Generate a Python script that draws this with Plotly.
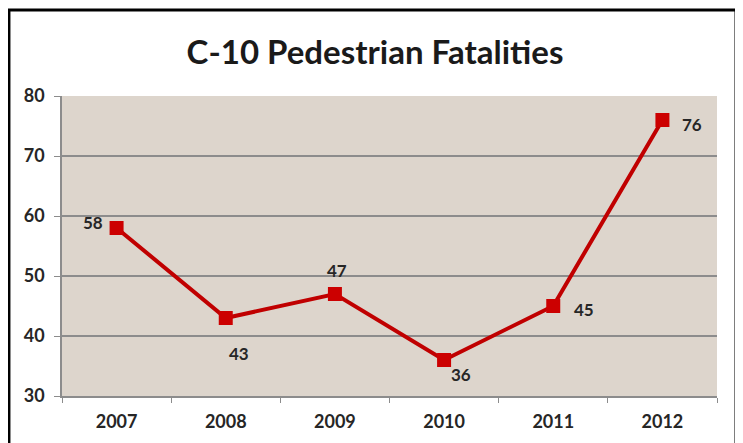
import plotly.graph_objects as go

years = ["2007", "2008", "2009", "2010", "2011", "2012"]
fatalities = [58, 43, 47, 36, 45, 76]
label_dx = [-24, 13, 2, 17, 31, 30]
label_dy = [6, -35, 24, -14, -3, -4]
title_text = "C-10 Pedestrian Fatalities"

fig = go.Figure()
fig.add_trace(go.Scatter(
    x=years, y=fatalities,
    mode="lines+markers",
    line=dict(color="#c00000", width=4),
    marker=dict(symbol="square", size=14, color="#cc0000"),
    cliponaxis=False,
    hoverinfo="skip",
))

for i, (v, dx, dy) in enumerate(zip(fatalities, label_dx, label_dy)):
    fig.add_annotation(
        x=i, y=v, xref="x", yref="y", text="<b>%d</b>" % v, showarrow=False,
        xshift=dx, yshift=dy, xanchor="center", yanchor="middle",
        font=dict(family="Lato", size=17, color="#262626"),
    )

fig.update_layout(
    width=743, height=443,
    margin=dict(l=54, r=34, t=88, b=55),
    paper_bgcolor="white",
    plot_bgcolor="#ddd5cc",
    showlegend=False,
    title=dict(text="<b>" + title_text + "</b>", x=0.494, xref="container", xanchor="center",
               y=1 - 44/443, yref="container", yanchor="middle",
               font=dict(family="Lato", size=33, color="#1a1a1a")),
    shapes=[dict(type="rect", xref="paper", yref="paper",
                 x0=-0.081, x1=1.029, y0=-0.17, y1=1.287,
                 line=dict(color="black", width=3), fillcolor="rgba(0,0,0,0)", layer="below")],
)
fig.update_xaxes(
    type="category", categoryorder="array", categoryarray=years,
    range=[-0.5, len(years) - 0.5],
    tickson="boundaries", ticks="outside", ticklen=5, tickcolor="#8c8c8c",
    showline=True, linecolor="#8c8c8c", linewidth=1.5, showgrid=False,
    ticklabelstandoff=9,
    tickfont=dict(family="Lato", size=18, color="#262626", weight="bold"),
)
fig.update_yaxes(
    range=[30, 80], dtick=10, ticks="outside", ticklen=6, tickcolor="#8c8c8c",
    showline=True, linecolor="#8c8c8c", linewidth=1.5,
    showgrid=True, gridcolor="#8c8c8c", gridwidth=1.5, zeroline=False,
    ticklabelstandoff=6,
    tickfont=dict(family="Lato", size=18, color="#262626", weight="bold"),
)

fig.write_html("out.html")
